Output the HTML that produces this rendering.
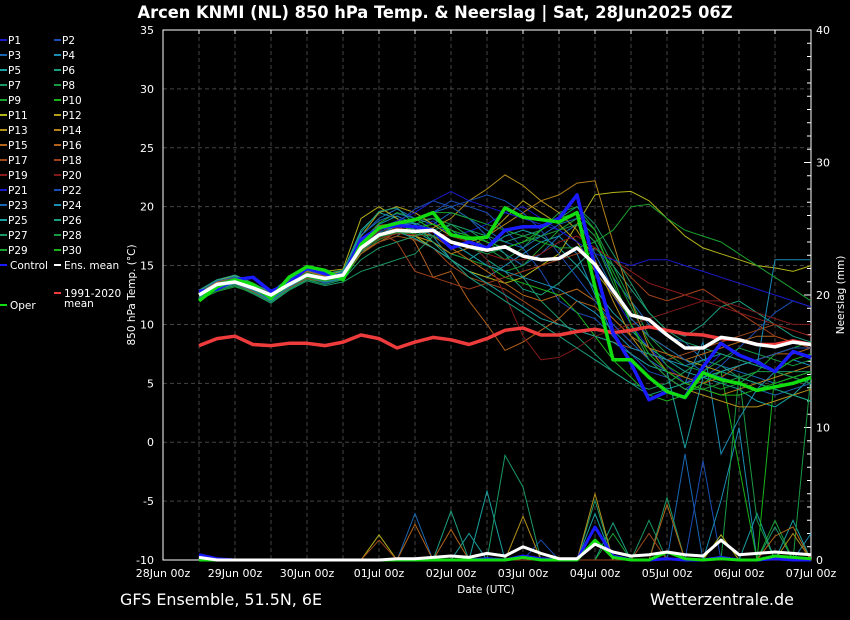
<!DOCTYPE html>
<html><head><meta charset="utf-8"><style>
html,body{margin:0;padding:0;background:#000;}
svg{display:block;font-family:"DejaVu Sans","Liberation Sans",sans-serif;}
</style></head><body>
<svg id="chart" width="850" height="620" viewBox="0 0 850 620">
<rect width="850" height="620" fill="#000"/>
<text x="435" y="18" fill="#fff" font-size="16.5" font-weight="bold" text-anchor="middle" textLength="595" lengthAdjust="spacingAndGlyphs">Arcen KNMI  (NL)  850 hPa Temp. &amp; Neerslag | Sat, 28Jun2025 06Z</text>
<g id="grid"></g>
<g id="axes"></g>
<g id="precip"></g>
<g id="members"></g>
<g id="main"></g>
<g id="legend"></g>
<text x="486" y="593" fill="#fff" font-size="10.5" text-anchor="middle">Date (UTC)</text>
<text x="0" y="0" fill="#fff" font-size="10.5" text-anchor="middle" transform="translate(135,295) rotate(-90)">850 hPa Temp. (°C)</text>
<text x="0" y="0" fill="#fff" font-size="10.5" text-anchor="middle" transform="translate(844,295) rotate(-90)">Neerslag (mm)</text>
<text x="120" y="605" fill="#fff" font-size="16" textLength="202" lengthAdjust="spacingAndGlyphs">GFS Ensemble, 51.5N, 6E</text>
<text x="650" y="605" fill="#fff" font-size="16" textLength="144" lengthAdjust="spacingAndGlyphs">Wetterzentrale.de</text>
</svg>
<script>
const tempTicks=[-10,-5,0,5,10,15,20,25,30,35];
const precipTicks=[0,10,20,30,40];
const dayLabels=["28Jun 00z","29Jun 00z","30Jun 00z","01Jul 00z","02Jul 00z","03Jul 00z","04Jul 00z","05Jul 00z","06Jul 00z","07Jul 00z"];
const ensMean=[12.5,13.4,13.6,13.1,12.5,13.4,14.2,13.9,14.2,16.5,17.6,18.0,17.9,18.0,17.0,16.6,16.3,16.6,15.8,15.5,15.6,16.5,15.1,12.9,10.8,10.4,9.1,8.0,8.0,8.9,8.7,8.3,8.1,8.5,8.3];
const control=[12.8,13.0,13.8,14.0,12.8,13.5,14.8,14.3,14.0,17.2,18.2,18.4,18.3,18.0,16.5,17.0,16.5,18.0,18.3,18.3,19.0,21.0,14.9,9.3,6.7,3.6,4.3,3.8,6.4,8.4,7.4,6.8,6.0,7.7,7.2];
const oper=[12.0,13.2,13.8,13.4,12.2,14.0,14.9,14.6,13.8,16.8,18.2,18.6,18.9,19.5,17.6,17.3,17.4,19.9,19.1,18.9,18.7,19.5,13.2,7.0,7.0,5.5,4.3,3.8,5.9,5.3,5.0,4.4,4.7,5.0,5.5];
const climate=[8.2,8.8,9.0,8.3,8.2,8.4,8.4,8.2,8.5,9.1,8.8,8.0,8.5,8.9,8.7,8.3,8.8,9.5,9.7,9.1,9.1,9.4,9.6,9.3,9.5,9.8,9.5,9.2,9.1,8.8,8.7,8.3,8.3,8.6,8.3];
const meanPrecip=[0.2,0,0,0,0,0,0,0,0,0,0,0.1,0.1,0.2,0.3,0.2,0.5,0.3,1.0,0.5,0.1,0.1,1.2,0.6,0.3,0.4,0.6,0.4,0.3,1.5,0.4,0.5,0.6,0.5,0.4];
const controlPrecip=[0.4,0.1,0,0,0,0,0,0,0,0,0,0,0,0,0,0,0.1,0,0.3,0.1,0,0,2.5,0.3,0,0,0.1,0,0,0.2,0,0,0.1,0,0];
const operPrecip=[0,0,0,0,0,0,0,0,0,0,0,0,0,0,0,0,0,0,0.2,0,0,0,1.5,0.2,0,0,0.6,0.1,0,0.1,0,0,0.3,0.2,0.1];
const memberColors=["#1a1acc","#1a4db3","#1a66b3","#1a8cb3","#1aa0a0","#1aa080","#1a9966","#1a9944","#1aa030","#1ab31a","#b3b31a","#b3a01a","#b3901a","#b3801a","#b3661a","#b3601a","#a04a1a","#a0401a","#8c1a1a","#801a1a"];
const m1=[12.6,13.5,13.8,13.0,12.4,13.6,14.3,14.0,14.4,17.0,18.3,18.5,18.0,18.8,17.5,17.9,18.5,19.5,20.0,19.0,18.0,17.0,15.0,12.5,10.0,8.0,6.5,5.0,6.0,7.5,7.0,6.5,6.0,7.0,6.5];
const m2=[12.2,13.0,13.4,12.9,12.3,13.2,14.0,13.5,13.9,16.0,17.5,18.3,18.8,19.5,20.5,20.0,19.5,18.0,16.5,14.5,12.0,11.0,10.5,9.0,7.5,6.0,5.5,4.5,5.5,6.5,8.0,9.5,11.0,12.0,11.5];
const m3=[12.8,13.6,14.0,13.2,12.6,13.8,14.5,14.2,14.3,17.5,19.0,19.8,19.0,18.5,19.5,19.0,17.5,16.0,15.0,16.0,17.5,18.5,17.0,14.0,12.0,10.0,9.0,8.5,7.0,6.5,6.0,5.5,5.0,5.5,6.0];
const m4=[12.4,13.2,13.5,12.8,12.0,13.1,13.9,13.6,14.0,16.8,18.5,19.2,18.5,17.5,15.5,14.5,14.0,15.0,16.0,17.0,17.5,16.0,12.5,9.0,7.0,5.5,4.5,5.0,8.5,-1.0,2.0,4.5,6.0,7.0,6.5];
const m5=[12.9,13.8,14.1,13.4,12.8,13.9,14.6,14.1,14.5,18.0,19.5,19.0,18.0,17.0,16.0,15.5,16.5,17.5,18.0,17.5,16.5,15.0,13.0,11.0,9.5,8.0,7.0,6.0,5.5,5.0,4.5,3.5,3.0,4.0,5.5];
const m6=[12.5,13.3,13.7,13.1,12.1,13.3,14.1,13.8,14.1,16.2,17.0,17.5,18.5,19.0,18.0,17.0,15.5,14.5,13.0,12.5,13.5,15.0,16.5,15.0,13.0,11.0,9.5,9.0,10.0,11.5,12.0,11.0,10.0,9.0,8.5];
const m7=[12.3,12.9,13.3,12.6,11.8,12.9,13.7,13.3,13.6,14.5,15.0,15.5,16.0,17.5,18.5,18.0,17.0,16.0,14.0,12.0,10.5,9.0,7.5,6.0,5.0,4.5,5.0,6.0,7.0,6.5,5.5,5.0,4.5,4.0,3.5];
const m8=[12.7,13.4,13.9,13.3,12.5,13.5,14.4,14.0,14.2,16.8,17.8,18.4,18.8,19.0,18.5,17.5,16.5,15.5,16.5,18.0,19.5,20.0,18.0,15.0,12.0,9.0,7.5,6.5,6.0,7.0,8.0,7.5,7.0,6.5,7.0];
const m9=[12.1,12.8,13.2,12.7,12.0,13.0,13.8,13.6,13.8,16.0,17.2,17.8,17.5,17.0,16.0,15.5,15.0,14.5,15.0,16.5,18.0,19.0,17.5,14.5,11.5,8.5,6.5,5.5,5.0,4.5,5.0,6.0,7.5,8.0,8.5];
const m10=[12.0,13.1,13.6,13.0,12.1,13.4,14.2,13.9,14.0,17.0,18.6,19.5,19.0,18.0,17.0,16.0,15.0,14.0,13.5,13.0,12.5,11.0,9.0,7.0,5.5,4.0,3.5,4.0,5.0,6.0,-2.0,-10.0,6.0,7.0,7.5];
const m11=[12.9,13.7,14.2,13.5,12.7,13.9,14.8,14.5,14.7,19.0,20.0,19.0,17.5,16.5,15.5,14.5,14.0,13.5,14.0,15.0,16.0,18.5,21.0,21.2,21.3,20.5,19.0,17.5,16.5,16.0,15.5,15.0,14.8,14.5,15.0];
const m12=[12.6,13.4,13.8,13.2,12.4,13.6,14.5,14.1,14.6,17.5,19.5,20.0,19.5,18.5,17.5,17.0,17.5,19.0,20.5,19.5,18.5,17.0,14.5,12.5,10.5,9.0,8.0,7.0,6.5,6.0,6.5,7.0,7.5,8.0,8.0];
const m13=[12.4,13.1,13.5,12.9,12.2,13.3,14.0,13.6,14.0,16.3,17.6,18.2,18.0,18.2,19.0,20.5,21.5,22.7,21.8,20.5,19.5,18.0,15.5,12.0,9.0,7.0,5.5,4.5,4.0,3.5,3.0,3.0,3.5,4.0,4.5];
const m14=[12.7,13.5,13.9,13.3,12.5,13.5,14.3,14.0,14.2,16.5,17.5,17.8,17.5,17.0,16.0,16.5,17.5,18.5,19.5,20.5,21.0,22.0,22.2,17.0,12.0,8.0,6.0,5.0,4.5,4.0,4.5,5.0,5.5,6.0,6.5];
const m15=[12.5,13.3,13.7,13.0,12.3,13.4,14.1,13.7,14.1,16.0,17.0,17.8,18.0,17.5,16.5,15.5,14.5,13.5,12.5,12.0,12.5,13.0,12.0,10.5,9.0,8.0,7.5,7.0,7.5,8.0,8.5,9.0,9.0,8.5,8.0];
const m16=[12.8,13.6,14.0,13.4,12.6,13.7,14.5,14.1,14.3,17.2,18.4,18.6,17.0,14.0,14.5,12.0,10.0,7.8,8.5,9.5,10.5,12.0,11.5,10.0,8.5,7.0,6.0,5.5,5.0,5.5,6.5,7.0,7.5,7.5,8.0];
const m17=[12.3,13.0,13.4,12.8,12.0,13.1,13.9,13.6,13.9,16.2,17.0,17.5,17.2,16.5,15.0,14.0,13.5,13.0,12.0,11.0,10.0,9.5,9.0,8.5,8.0,7.5,7.0,7.5,8.0,8.5,9.0,9.5,10.0,9.5,9.0];
const m18=[12.6,13.4,13.7,13.1,12.4,13.5,14.3,13.9,14.2,16.7,17.8,17.0,14.5,14.0,13.5,13.0,13.5,14.0,14.5,15.0,15.5,16.0,16.5,15.5,14.0,12.5,12.0,12.5,13.0,12.0,11.0,10.0,9.0,8.5,8.0];
const m19=[12.5,13.2,13.6,13.0,12.3,13.3,14.0,13.7,14.0,16.3,17.3,17.7,17.6,17.5,17.0,16.5,16.0,15.5,15.5,16.0,17.0,17.5,16.5,15.5,14.5,13.5,13.0,12.5,12.0,11.5,11.0,10.5,10.0,9.5,9.0];
const m20=[12.7,13.5,13.8,13.2,12.5,13.6,14.4,14.0,14.3,16.8,17.9,18.2,18.0,17.8,17.5,17.0,15.5,12.5,9.0,7.0,7.2,8.0,9.0,9.5,10.0,10.5,11.0,11.5,12.0,12.0,11.5,11.0,10.5,10.0,10.0];
const m21=[12.4,13.2,13.6,13.0,12.2,13.3,14.1,13.8,14.1,16.9,18.2,18.8,19.5,20.5,21.3,20.5,20.0,19.5,19.0,18.5,18.0,17.0,16.0,15.5,15.0,15.5,15.5,15.0,14.5,14.0,13.5,13.0,12.5,12.0,11.5];
const m22=[12.2,13.0,13.5,12.9,12.1,13.2,14.0,13.6,13.9,16.6,17.8,18.6,19.8,20.5,20.0,20.5,21.0,20.5,19.5,18.0,16.0,14.0,12.0,10.0,8.5,7.0,6.0,5.0,5.5,6.0,6.5,7.0,7.5,8.0,8.0];
const m23=[12.8,13.7,14.0,13.3,12.6,13.8,14.6,14.2,14.4,17.6,18.8,19.4,19.0,19.5,20.0,19.0,18.0,17.0,16.5,17.5,18.5,19.0,16.0,13.0,10.5,9.0,8.0,7.0,6.0,5.5,5.0,4.5,4.0,4.5,5.0];
const m24=[12.3,13.1,13.5,12.9,12.0,13.2,14.0,13.6,13.9,16.4,17.6,18.4,18.6,18.0,17.0,16.0,15.0,14.5,14.0,13.5,13.0,12.0,11.0,9.5,8.0,7.5,7.0,6.5,7.0,7.5,7.0,6.5,15.5,15.5,15.5];
const m25=[12.6,13.4,13.7,13.1,12.3,13.4,14.2,13.9,14.2,16.6,17.7,17.9,17.3,16.5,15.5,14.5,13.5,12.5,11.5,10.5,10.0,9.5,9.0,8.5,7.5,6.5,6.0,-0.5,5.5,6.0,6.5,7.0,6.0,5.5,5.0];
const m26=[12.9,13.8,14.2,13.5,12.7,13.9,14.7,14.3,14.6,17.8,19.6,19.9,18.5,17.0,15.5,14.0,13.0,12.0,11.0,10.0,9.0,8.0,7.0,6.0,5.0,4.0,4.5,5.0,5.5,6.0,5.5,5.0,4.5,4.0,3.5];
const m27=[12.2,13.0,13.4,12.7,11.9,13.0,13.8,13.4,13.8,15.5,16.5,17.0,17.5,18.0,18.5,18.0,17.5,17.0,17.5,18.0,19.0,20.0,18.5,16.0,13.5,11.0,9.5,8.5,8.0,7.5,7.0,6.5,6.0,6.0,6.0];
const m28=[12.5,13.3,13.7,13.0,12.2,13.3,14.1,13.7,14.0,16.2,17.4,17.8,17.7,17.5,17.0,16.5,16.0,16.5,17.0,17.5,18.0,18.5,17.0,13.5,10.0,7.0,5.5,4.5,4.5,5.0,5.5,6.0,6.0,5.5,5.0];
const m29=[12.7,13.5,13.9,13.3,12.5,13.6,14.4,14.0,14.3,17.0,18.0,18.6,19.0,19.5,19.5,19.0,18.5,18.0,17.5,17.0,16.5,16.5,17.0,18.0,20.0,20.2,19.0,18.0,17.5,17.0,16.0,15.0,14.0,13.0,12.0];
const m30=[12.4,13.1,13.6,13.0,12.2,13.3,14.0,13.7,14.0,16.5,17.5,18.0,18.2,18.5,18.0,17.5,17.0,16.5,17.0,18.0,19.0,19.5,18.0,14.0,10.0,7.5,6.0,5.0,4.5,4.0,4.0,4.5,5.0,5.5,6.0];
const members=[m1,m2,m3,m4,m5,m6,m7,m8,m9,m10,m11,m12,m13,m14,m15,m16,m17,m18,m19,m20,m21,m22,m23,m24,m25,m26,m27,m28,m29,m30];
const p1=[0,0,0,0,0,0,0,0,0,0,0,0,3.5,0,0,0,0,0,0,0,0,0,0,0,0,0,0,8.0,0,0,0,0,0,0,0];
const p2=[0,0,0,0,0,0,0,0,0,0,0,0,0,0,0,0,0,0,0,1.5,0,0,0,0,0,0,0,0,7.5,0,0,0,0,0,0];
const p3=[0,0,0,0,0,0,0,0,0,0,0,0,0,0,0,2.0,0,0,0,0,0,0,3.5,0,0,0,0,0,0,0,0,3.5,0,0,0];
const p4=[0,0,0,0,0,0,0,0,0,0,0,0,0,0,0,0,0,0,0,0,0,0,0,0,0,0,0,0,0,4.5,10.0,0,0,0,2.0];
const p5=[0,0,0,0,0,0,0,0,0,0,0,0,0,0,0,0,5.2,0,0,0,0,0,2.5,0,0,0,0,0,0,0,0,0,0,3.0,0];
const p6=[0,0,0,0,0,0,0,0,0,0,0,0,0,0,3.7,0,0,0,0,0,0,0,0,2.8,0,0,0,0,0,0,0,0,0,0,0];
const p7=[0,0,0,0,0,0,0,0,0,0,0,0,0,0,0,0,0,7.9,5.5,0,0,0,0,0,0,0,4.7,0,0,0,0,0,2.5,0,0];
const p8=[0,0,0,0,0,0,0,0,0,0,0,0,0,0,0,0,0,0,0,0,0,0,0,0,0,0,0,0,0,0,14.0,3.0,0,0,14.0];
const p9=[0,0,0,0,0,0,0,0,0,0,0,0,0,0,0,0,0,0,0,0,0,0,4.5,0,0,3.0,0,0,0,0,0,0,0,0,0];
const p10=[0,0,0,0,0,0,0,0,0,0,0,0,0,0,0,0,0,0,0,0,0,0,0,2.0,0,0,0,0,0,0,0,0,3.0,0,0];
const p11=[0,0,0,0,0,0,0,0,0,0,1.9,0,0,0,0,0,0,0,0,0,0,0,0,0,0,0,0,0,0,1.9,0,0,0,0,0];
const p13=[0,0,0,0,0,0,0,0,0,0,0,0,0,0,0,0,0,0,3.3,0,0,0,5.0,0,0,0,0,0,0,0,0,0,0,2.0,0];
const p15=[0,0,0,0,0,0,0,0,0,0,0,0,2.7,0,2.3,0,0,0,0,0,0,0,0,0,0,0,4.2,0,0,0,0,0,1.8,2.5,0];
const p17=[0,0,0,0,0,0,0,0,0,0,1.5,0,0,0,0,0,0,0,0,0,0,0,0,0,0,2.0,0,0,0,0,0,0,0,0,0];
const precipMembers=[p1,p2,p3,p4,p5,p6,p7,p8,p9,p10,p11,p13,p15,p17];
const precipMemberIdx=[2,21,24,3,4,5,6,7,26,28,10,12,14,16];

const NS="http://www.w3.org/2000/svg";
const X0=163,X1=811,Y0=30,Y1=560,START=199,STEP=18;
function xIdx(i){return START+i*STEP;}
function xDay(d){return X0+d*(X1-X0)/9;}
function yT(t){return Y1-(t+10)*(Y1-Y0)/45;}
function yP(p){return Y1-p*(Y1-Y0)/40;}
function mk(tag,attrs,parent){const e=document.createElementNS(NS,tag);for(const k in attrs)e.setAttribute(k,attrs[k]);parent.appendChild(e);return e;}
function pts(arr,f){return arr.map((v,i)=>xIdx(i).toFixed(1)+","+f(Math.max(-10,v)).toFixed(1)).join(" ");}
const grid=document.getElementById("grid"),axes=document.getElementById("axes");
tempTicks.forEach(t=>{
  if(t>-10&&t<35){const l=mk("line",{x1:X0,x2:X1,y1:yT(t),y2:yT(t),stroke:"#444","stroke-dasharray":"4,3","stroke-width":1},grid);
  
  }
  const tx=mk("text",{x:154,y:yT(t)+4,fill:"#fff","font-size":11,"text-anchor":"end"},axes);tx.textContent=t;
  
  
});
for(let k=1;k<18;k++){const x=X0+k*36;
  const l=mk("line",{x1:x,x2:x,y1:Y0,y2:Y1,stroke:"#444","stroke-dasharray":"4,3","stroke-width":1},grid);
  
  
  mk("line",{x1:x,x2:x,y1:Y0,y2:Y0+4,stroke:"#fff"},axes);}
dayLabels.forEach((d,i)=>{const tx=mk("text",{x:xDay(i),y:577,fill:"#fff","font-size":11,"text-anchor":"middle"},axes);tx.textContent=d;
  
  });
precipTicks.forEach(p=>{const tx=mk("text",{x:816,y:yP(p)+4,fill:"#fff","font-size":11},axes);tx.textContent=p;
  
  });
for(let p=0;p<=40;p++){mk("line",{x1:X1-(p%10?4:7),x2:X1,y1:yP(p),y2:yP(p),stroke:"#fff","stroke-width":1},axes);}
const frame=mk("rect",{x:X0,y:Y0,width:X1-X0,height:Y1-Y0,fill:"none",stroke:"#fff","stroke-width":1},axes);


const pg=document.getElementById("precip");
precipMembers.forEach((a,k)=>{const l=mk("polyline",{points:pts(a,yP),fill:"none",stroke:memberColors[precipMemberIdx[k]%20],"stroke-width":1},pg);
  
  });
const mg=document.getElementById("members");
members.forEach((a,k)=>{const l=mk("polyline",{points:pts(a,yT),fill:"none",stroke:memberColors[k%20],"stroke-width":1},mg);
  
  });
const main=document.getElementById("main");
function big(arr,f,col,w,name){const l=mk("polyline",{points:pts(arr,f),fill:"none",stroke:col,"stroke-width":w,"stroke-linejoin":"round"},main);
  
  }
big(climate,yT,"#ee3b3b",3.5,"climate-mean-line");
big(controlPrecip,yP,"#1a1aff",3,"control-precip-line");
big(operPrecip,yP,"#11dd11",3,"oper-precip-line");
big(meanPrecip,yP,"#fff",3,"ens-mean-precip-line");
big(control,yT,"#1a1aff",3.5,"control-temp-line");
big(oper,yT,"#11dd11",3.5,"oper-temp-line");
big(ensMean,yT,"#fff",3.5,"ens-mean-temp-line");
const lg=document.getElementById("legend");
for(let k=0;k<30;k++){const col=k%2,row=Math.floor(k/2);const x=col?54:0,y=40+row*15;
  mk("line",{x1:x,x2:x+7,y1:y,y2:y,stroke:memberColors[k%20],"stroke-width":2},lg);
  const t=mk("text",{x:x+8,y:y+4,fill:"#fff","font-size":10.5},lg);t.textContent="P"+(k+1);
  
  }
[[0,265,"#1a1aff","Control"],[54,265,"#fff","Ens. mean"],[0,305,"#11dd11","Oper"],[54,293,"#ee3b3b","1991-2020"]].forEach(e=>{
  mk("line",{x1:e[0],x2:e[0]+7,y1:e[1],y2:e[1],stroke:e[2],"stroke-width":2},lg);
  const t=mk("text",{x:e[0]+10,y:e[1]+4,fill:"#fff","font-size":10.5},lg);t.textContent=e[3];
  
  });
const tm=mk("text",{x:64,y:307,fill:"#fff","font-size":10.5},lg);tm.textContent="mean";


</script>
</body></html>
